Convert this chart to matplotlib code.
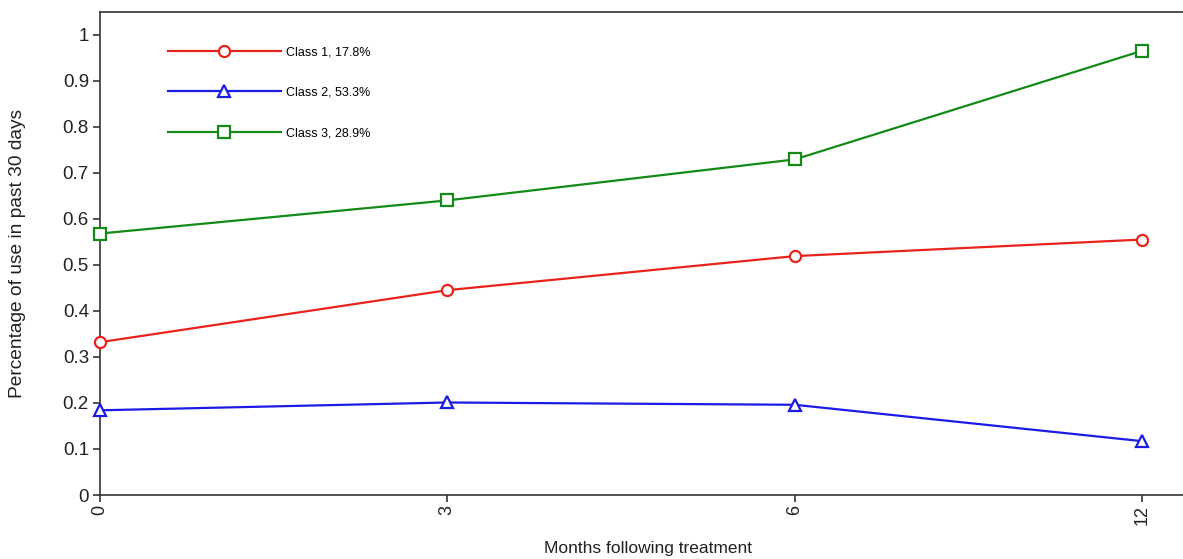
import matplotlib
matplotlib.use("Agg")
import matplotlib.pyplot as plt
from matplotlib import font_manager

months = ["0", "3", "6", "12"]
class1 = [0.332, 0.445, 0.519, 0.555]
class2 = [0.184, 0.201, 0.196, 0.117]
class3 = [0.568, 0.640, 0.729, 0.965]
labels = ["Class 1, 17.8%", "Class 2, 53.3%", "Class 3, 28.9%"]
yticks = [0, 0.1, 0.2, 0.3, 0.4, 0.5, 0.6, 0.7, 0.8, 0.9, 1]
yticklabels = ["0", "0.1", "0.2", "0.3", "0.4", "0.5", "0.6", "0.7", "0.8", "0.9", "1"]

names = {f.name for f in font_manager.fontManager.ttflist}
main_font = "Liberation Sans" if "Liberation Sans" in names else "DejaVu Sans"
narrow_font = "Liberation Sans Narrow" if "Liberation Sans Narrow" in names else main_font
plt.rcParams["font.family"] = [main_font, "DejaVu Sans"]

fig = plt.figure(figsize=(11.83, 5.59), dpi=100)
ax_h = 495 - 11.7
ax = fig.add_axes([100 / 1183, 1 - 495 / 559, 1 - 100 / 1183, ax_h / 559])

x = list(range(len(months)))
series = [
    (class1, "#e8231e", "o"),
    (class2, "#1b1be6", "^"),
    (class3, "#148a18", "s"),
]
for (vals, col, mk), lab in zip(series, labels):
    ax.plot(x, vals, color=col, lw=1.6, marker=mk, markersize=8,
            markerfacecolor="white", markeredgecolor=col, markeredgewidth=1.6,
            label=lab, clip_on=False, zorder=3)

ax.set_xlim(0, 3.118)
ax.set_ylim(0, 1.05)
ax.set_xticks(x)
ax.set_xticklabels(months, rotation=90, fontsize=13, color="#222222")
ax.set_yticks(yticks)
ax.set_yticklabels(yticklabels, fontsize=13.5, color="#222222")
ax.tick_params(direction="out", length=5, width=1.2, color="#333333")
ax.tick_params(axis="x", pad=2)
ax.tick_params(axis="y", pad=3)
for s in ["left", "top", "bottom"]:
    ax.spines[s].set_color("#333333")
    ax.spines[s].set_linewidth(1.2)
ax.spines["right"].set_visible(False)

ax.set_ylabel("Percentage of use in past 30 days", fontsize=13.8, color="#222222", va="center")
ax.yaxis.set_label_coords((18 - 100) / 1083, 0.5)
ax.set_xlabel("Months following treatment", fontsize=12.5, color="#222222",
              fontfamily=[narrow_font, "DejaVu Sans"], va="center")
ax.xaxis.set_label_coords((648 - 100) / 1083, -(549 - 495) / ax_h)

leg = ax.legend(loc="upper left", bbox_to_anchor=((168 - 100) / 1083, (495 - 46) / ax_h),
                frameon=False, fontsize=9, handlelength=9, handletextpad=0.4,
                labelspacing=2.3, borderpad=0, borderaxespad=0, numpoints=1)

fig.savefig("out.png", dpi=100)
